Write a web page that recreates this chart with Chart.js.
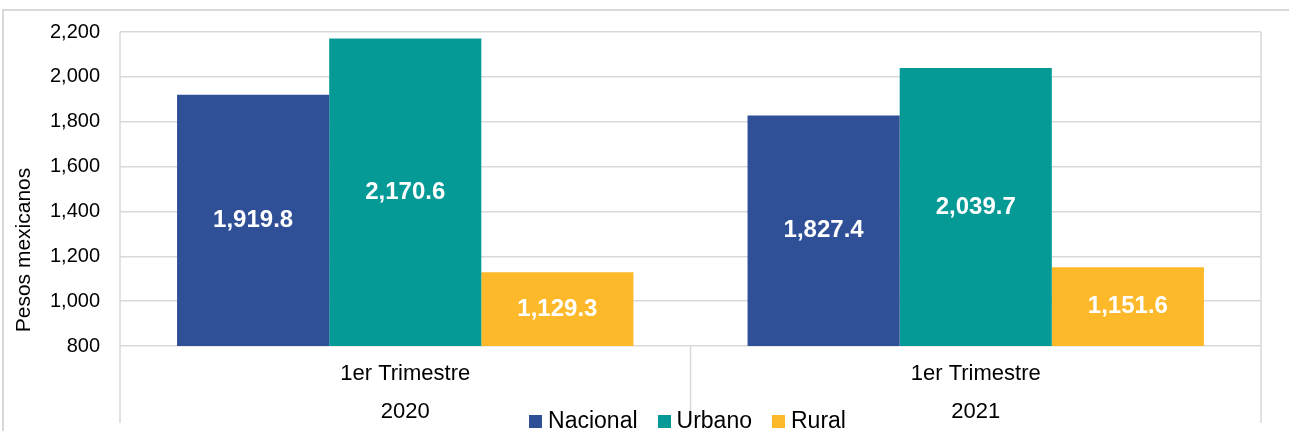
<!DOCTYPE html>
<html>
<head>
<meta charset="utf-8">
<script src="https://cdn.jsdelivr.net/npm/chart.js@4"></script>
<style>
    body { margin: 0; background: #fff; }
    .wrap { position: relative; width: 1289px; height: 431px; overflow: hidden; }
    .frame { position: absolute; top: 9px; left: 2px; right: -10px; bottom: -10px;
             border-top: 2px solid #d9d9d9; border-left: 2px solid #d9d9d9; }
    canvas { position: absolute; top: 0; left: 0; }
    .legend { position: absolute; top: 409px; left: 0; width: 1375px; text-align: center;
              font: 23px "Liberation Sans", Arial, sans-serif; line-height: 22px; color: #000; }
    .legend span.item { margin: 0 10px; white-space: nowrap; }
    .legend span.box { display: inline-block; width: 13px; height: 13px; margin-right: 6px; }
</style>
</head>
<body>
<div class="wrap">
    <div class="frame"></div>
    <canvas id="ingresoChart" width="1289" height="431"></canvas>
    <div class="legend" id="legend"></div>
</div>
<script>
// Data
const categories = [['1er Trimestre', '2020'], ['1er Trimestre', '2021']];
const seriesNames = ['Nacional', 'Urbano', 'Rural'];
const nacional = [1919.8, 1827.4];
const urbano = [2170.6, 2039.7];
const rural = [1129.3, 1151.6];
const yTicks = [800, 1000, 1200, 1400, 1600, 1800, 2000, 2200];
const yTitle = 'Pesos mexicanos';

const colors = ['#2F5096', '#069A97', '#FDB929'];
const gridColor = '#d9d9d9';
const fontFamily = '"Liberation Sans", Arial, sans-serif';

const fmt = (v, d) => v.toLocaleString('en-US', { minimumFractionDigits: d, maximumFractionDigits: d });

// draws value labels centered inside the visible part of each bar
const barLabels = {
    id: 'barLabels',
    afterDatasetsDraw(chart) {
        const ctx = chart.ctx;
        const bottom = chart.chartArea.bottom;
        ctx.save();
        ctx.fillStyle = '#fff';
        ctx.font = 'bold 24px ' + fontFamily;
        ctx.textAlign = 'center';
        ctx.textBaseline = 'middle';
        chart.data.datasets.forEach((ds, i) => {
            chart.getDatasetMeta(i).data.forEach((bar, j) => {
                const base = Math.min(bar.base, bottom);
                ctx.fillText(fmt(ds.data[j], 1), bar.x, (bar.y + base) / 2);
            });
        });
        ctx.restore();
    }
};

// frame lines, category separators below the axis, and the y title
const axisFrame = {
    id: 'axisFrame',
    afterDraw(chart) {
        const { ctx, chartArea } = chart;
        const x = chart.scales.x;
        const mid = (x.getPixelForValue(0) + x.getPixelForValue(1)) / 2;
        const end = chart.height - 8;
        ctx.save();
        ctx.strokeStyle = gridColor;
        ctx.lineWidth = 1.5;
        ctx.beginPath();
        ctx.moveTo(chartArea.left, chartArea.top);
        ctx.lineTo(chartArea.left, end);
        ctx.moveTo(chartArea.right, chartArea.top);
        ctx.lineTo(chartArea.right, end);
        ctx.moveTo(mid, chartArea.bottom);
        ctx.lineTo(mid, end);
        ctx.stroke();

        // y axis title, sitting a bit below the middle like the original
        ctx.translate(24, chartArea.bottom - 96);
        ctx.rotate(-Math.PI / 2);
        ctx.fillStyle = '#000';
        ctx.font = '21px ' + fontFamily;
        ctx.textAlign = 'center';
        ctx.textBaseline = 'middle';
        ctx.fillText(yTitle, 0, 0);
        ctx.restore();
    }
};

const chart = new Chart(document.getElementById('ingresoChart'), {
    type: 'bar',
    data: {
        labels: categories,
        datasets: [
            { label: seriesNames[0], data: nacional, backgroundColor: colors[0] },
            { label: seriesNames[1], data: urbano, backgroundColor: colors[1] },
            { label: seriesNames[2], data: rural, backgroundColor: colors[2] }
        ]
    },
    options: {
        responsive: false,
        animation: false,
        categoryPercentage: 0.8,
        barPercentage: 1.0,
        layout: { padding: { top: 30, left: 10, right: 28, bottom: 0 } },
        plugins: {
            legend: { display: false },
            tooltip: { enabled: false }
        },
        scales: {
            x: {
                grid: { display: false },
                border: { display: false },
                ticks: {
                    color: '#000',
                    padding: 1,
                    font: { family: fontFamily, size: 22, lineHeight: '38px' }
                },
                afterFit: (scale) => { scale.height = 85; }
            },
            y: {
                min: 800,
                max: 2200,
                afterBuildTicks: (scale) => { scale.ticks = yTicks.map(v => ({ value: v })); },
                grid: { color: gridColor, lineWidth: 1.5, drawTicks: false },
                border: { display: false },
                ticks: {
                    color: '#000',
                    padding: 20,
                    font: { family: fontFamily, size: 20 },
                    callback: (v) => fmt(v, 0)
                },
                afterFit: (scale) => { scale.width = 110; }
            }
        }
    },
    plugins: [barLabels, axisFrame]
});

// HTML legend
document.getElementById('legend').innerHTML = seriesNames.map((name, i) =>
    `<span class="item"><span class="box" style="background:${colors[i]}"></span>${name}</span>`
).join('');
</script>
</body>
</html>
